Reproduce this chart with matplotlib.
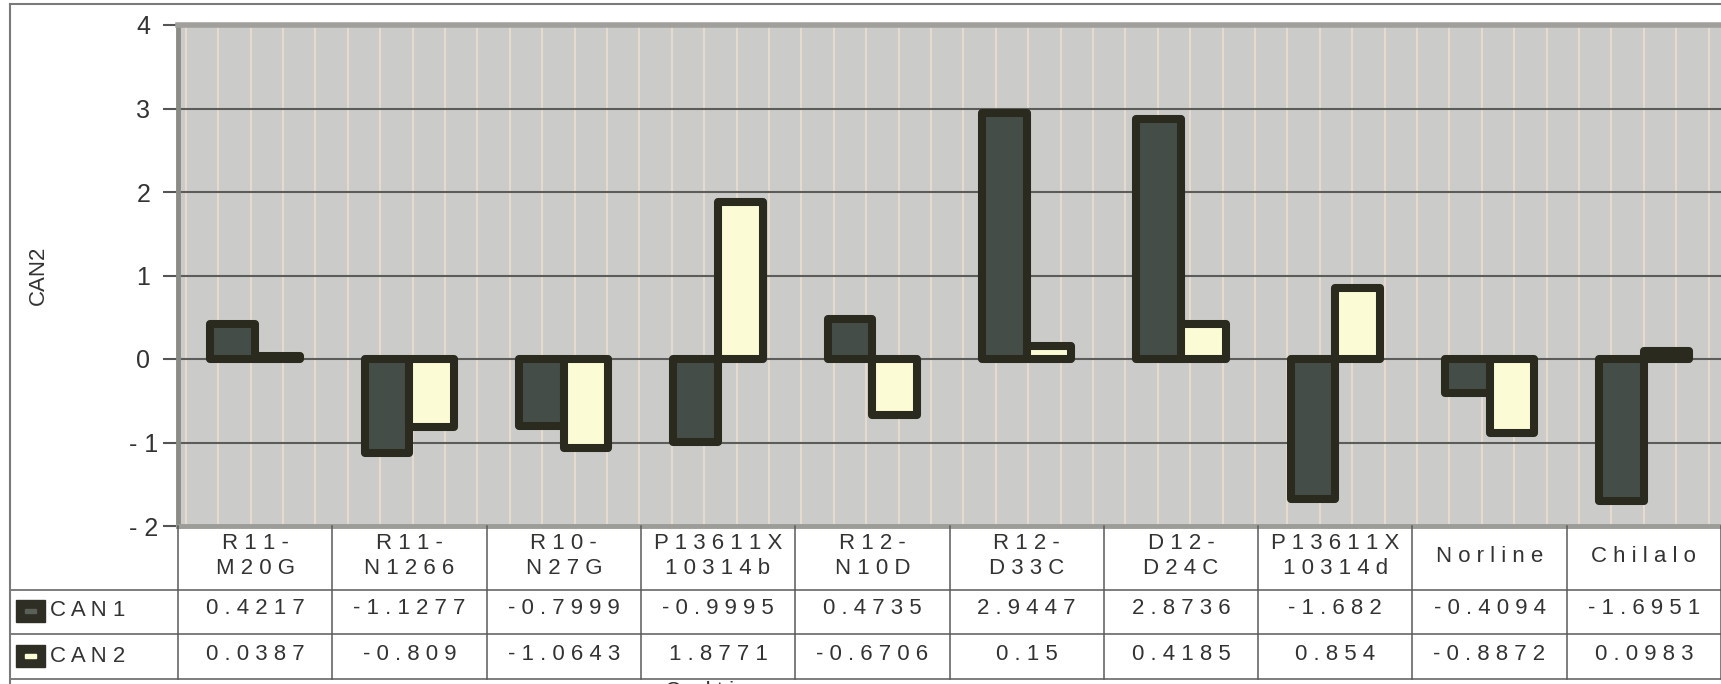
import matplotlib
matplotlib.use("Agg")
import matplotlib.pyplot as plt
import numpy as np
from matplotlib.patches import Rectangle
from matplotlib.lines import Line2D
from matplotlib.transforms import blended_transform_factory

plt.rcParams['font.family'] = ['Liberation Sans', 'DejaVu Sans']

cultivars = ["R11-M20G", "R11-N1266", "R10-N27G", "P13611X10314b", "R12-N10D",
             "R12-D33C", "D12-D24C", "P13611X10314d", "Norline", "Chilalo"]
header_lines = [("R11-", "M20G"), ("R11-", "N1266"), ("R10-", "N27G"),
                ("P13611X", "10314b"), ("R12-", "N10D"), ("R12-", "D33C"),
                ("D12-", "D24C"), ("P13611X", "10314d"), ("Norline",), ("Chilalo",)]
can1 = [0.4217, -1.1277, -0.7999, -0.9995, 0.4735, 2.9447, 2.8736, -1.682, -0.4094, -1.6951]
can2 = [0.0387, -0.809, -1.0643, 1.8771, -0.6706, 0.15, 0.4185, 0.854, -0.8872, 0.0983]
can1_txt = ["0.4217", "-1.1277", "-0.7999", "-0.9995", "0.4735", "2.9447", "2.8736", "-1.682", "-0.4094", "-1.6951"]
can2_txt = ["0.0387", "-0.809", "-1.0643", "1.8771", "-0.6706", "0.15", "0.4185", "0.854", "-0.8872", "0.0983"]
series_names = ["CAN1", "CAN2"]
yticks = [-2, -1, 0, 1, 2, 3, 4]


def spaced(s):
    # the scanned Excel chart uses wide letter spacing
    return " ".join(s)


W, H = 1721, 684
fig = plt.figure(figsize=(W / 100, H / 100), dpi=100)


def fy(py):
    return 1 - py / H


dark_fill = "#454d48"
light_fill = "#fbfbd6"
edge = "#2b2a1f"
bg = "#cbcbc9"
txt = "#333333"
fs = 16

ax = fig.add_axes([178 / W, fy(526), (W - 178) / W, (526 - 25) / H])
ax.set_facecolor(bg)
ax.set_xlim(-0.5, 9.5)
ax.set_ylim(-2, 4)

# faint vertical stripes of the scanned background
for xs in np.arange(-0.45, 9.5, 0.21):
    ax.axvline(xs, color="#e9dccd", lw=1.3, zorder=0.3)

ax.set_axisbelow(True)
ax.yaxis.grid(True, color="#5c5c5a", lw=1.5)

x = np.arange(len(cultivars))
w = 0.29
ax.bar(x - w / 2, can1, w, color=dark_fill, edgecolor=edge, linewidth=5.8,
       joinstyle="round", zorder=2)
ax.bar(x + w / 2, can2, w, color=light_fill, edgecolor=edge, linewidth=5.8,
       joinstyle="round", zorder=2)

ax.set_xticks([])
ax.set_yticks(yticks)
ax.set_yticklabels([spaced(str(t)) for t in yticks])
ax.tick_params(axis="y", direction="out", length=11, width=1.5, color="#555555",
               pad=14, labelsize=18, labelcolor=txt)
for lbl in ax.get_yticklabels():
    lbl.set_horizontalalignment("center")

ax.spines["right"].set_visible(False)
ax.spines["top"].set_color("#a09f9b")
ax.spines["top"].set_linewidth(4)
ax.spines["bottom"].set_color("#9c9c98")
ax.spines["bottom"].set_linewidth(3.5)
ax.spines["left"].set_color("#8c8c87")
ax.spines["left"].set_linewidth(3.5)

fig.text(38 / W, fy(275), "CAN2", rotation=90, ha="center", va="center",
         fontsize=16, color=txt)

# data table under the plot
tr = blended_transform_factory(ax.transData, fig.transFigure)
line_col = "#5a5a5a"
y_head_top, y_r1, y_r2, y_bot = 526, 590, 634, 679
for b in np.arange(-0.5, 10.0, 1.0):
    fig.add_artist(Line2D([b, b], [fy(y_head_top), fy(y_bot)], transform=tr,
                          color=line_col, lw=1.1))
for yy in (y_r1, y_r2, y_bot):
    fig.add_artist(Line2D([10 / W, 1], [fy(yy), fy(yy)], transform=fig.transFigure,
                          color=line_col, lw=1.1))

for i, lines in enumerate(header_lines):
    label = "\n".join(spaced(s) for s in lines)
    fig.text(i, fy(556), label, transform=tr, ha="center", va="center",
             fontsize=fs, color=txt, linespacing=1.2)
    fig.text(i, fy(609), spaced(can1_txt[i]), transform=tr, ha="center",
             va="center", fontsize=fs, color=txt)
    fig.text(i, fy(655), spaced(can2_txt[i]), transform=tr, ha="center",
             va="center", fontsize=fs, color=txt)

# row labels with legend keys
for name, fill, yc in ((series_names[0], "#5a5f58", 611), (series_names[1], light_fill, 656)):
    fig.add_artist(Rectangle((16 / W, fy(yc + 11)), 29 / W, 22 / H,
                             transform=fig.transFigure, color="#2f2e25"))
    fig.add_artist(Rectangle((25 / W, fy(yc + 2)), 11 / W, 4 / H,
                             transform=fig.transFigure, color=fill))
    fig.text(50 / W, fy(yc), spaced(name), ha="left", va="center",
             fontsize=fs, color=txt)

# outer chart frame
fig.add_artist(Line2D([10 / W, 10 / W], [0, fy(4)], transform=fig.transFigure,
                      color="#7a7a7a", lw=1.5))
fig.add_artist(Line2D([10 / W, 1], [fy(4), fy(4)], transform=fig.transFigure,
                      color="#7a7a7a", lw=1.5))

# category axis title, cut off by the bottom edge of the scan
fig.text(665 / W, fy(681), spaced("Cultivars"), ha="left", va="top",
         fontsize=fs, color=txt)

fig.savefig("out.png", dpi=100, facecolor="white")
